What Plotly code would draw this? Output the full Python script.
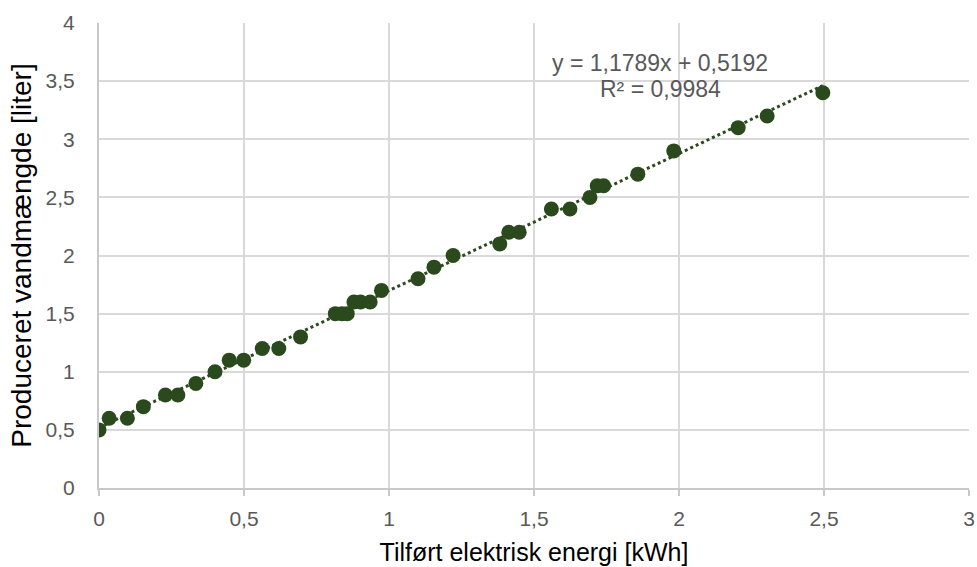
import plotly.graph_objects as go

# Measured points: supplied electrical energy vs. water produced
energy_kwh = [0.0, 0.035, 0.098, 0.153, 0.229, 0.272, 0.334, 0.400, 0.449, 0.499,
              0.563, 0.620, 0.695, 0.815, 0.838, 0.856, 0.879, 0.902, 0.935, 0.974,
              1.100, 1.155, 1.221, 1.382, 1.413, 1.449, 1.560, 1.624, 1.693, 1.718,
              1.740, 1.858, 1.982, 2.204, 2.304, 2.496]
water_liter = [0.5, 0.6, 0.6, 0.7, 0.8, 0.8, 0.9, 1.0, 1.1, 1.1,
               1.2, 1.2, 1.3, 1.5, 1.5, 1.5, 1.6, 1.6, 1.6, 1.7,
               1.8, 1.9, 2.0, 2.1, 2.2, 2.2, 2.4, 2.4, 2.5, 2.6,
               2.6, 2.7, 2.9, 3.1, 3.2, 3.4]

# Linear trendline as stated in the label
slope = 1.1789
intercept = 0.5192
r_squared = 0.9984

x_ticks = [0, 0.5, 1, 1.5, 2, 2.5, 3]
x_tick_text = ["0", "0,5", "1", "1,5", "2", "2,5", "3"]
y_ticks = [0, 0.5, 1, 1.5, 2, 2.5, 3, 3.5, 4]
y_tick_text = ["0", "0,5", "1", "1,5", "2", "2,5", "3", "3,5", "4"]

FONT = "Liberation Sans, Arial, sans-serif"
GREEN = "#2a4a1d"

def fmt(v, nd=4):
    return f"{v:.{nd}f}".replace(".", ",")

trend_x = [min(energy_kwh), max(energy_kwh)]
trend_y = [slope * x + intercept for x in trend_x]

fig = go.Figure()
fig.add_trace(go.Scatter(
    x=trend_x, y=trend_y, mode="lines",
    line=dict(color=GREEN, width=3, dash="dot"),
    hoverinfo="skip", showlegend=False,
))
fig.add_trace(go.Scatter(
    x=energy_kwh, y=water_liter, mode="markers",
    marker=dict(color=GREEN, size=15, line=dict(width=0)),
    showlegend=False,
))

fig.add_annotation(
    x=1.935, y=3.656, xref="x", yref="y", showarrow=False,
    text=f"y = {fmt(slope)}x + {fmt(intercept)}",
    font=dict(family=FONT, size=23, color="#595959"),
)
fig.add_annotation(
    x=1.935, y=3.43, xref="x", yref="y", showarrow=False,
    text=f"R² = {fmt(r_squared)}",
    font=dict(family=FONT, size=23, color="#595959"),
)

fig.update_layout(
    width=977, height=567,
    margin=dict(l=99, r=8, t=23, b=79, autoexpand=False),
    paper_bgcolor="white", plot_bgcolor="white",
    font=dict(family=FONT),
)
fig.update_xaxes(
    range=[0, 3], tickvals=x_ticks, ticktext=x_tick_text,
    automargin=False,
    showgrid=True, gridcolor="#d9d9d9", gridwidth=2,
    showline=True, linecolor="#c8c8c8", linewidth=2,
    ticks="outside", ticklen=6, tickcolor="#c8c8c8", tickwidth=2,
    ticklabelstandoff=5,
    tickfont=dict(family=FONT, size=21, color="#595959"),
    zeroline=False,
    title=dict(text="Tilført elektrisk energi [kWh]",
               font=dict(family=FONT, size=25, color="#000000"), standoff=14),
)
fig.update_yaxes(
    range=[0, 4], tickvals=y_ticks, ticktext=y_tick_text,
    automargin=False,
    showgrid=True, gridcolor="#d9d9d9", gridwidth=2,
    showline=True, linecolor="#c8c8c8", linewidth=2,
    ticks="", ticklabelstandoff=18,
    tickfont=dict(family=FONT, size=21, color="#595959"),
    zeroline=False,
    title=dict(text="Produceret vandmængde [liter]",
               font=dict(family=FONT, size=28, color="#000000"), standoff=6),
)

fig.write_html("out.html")
